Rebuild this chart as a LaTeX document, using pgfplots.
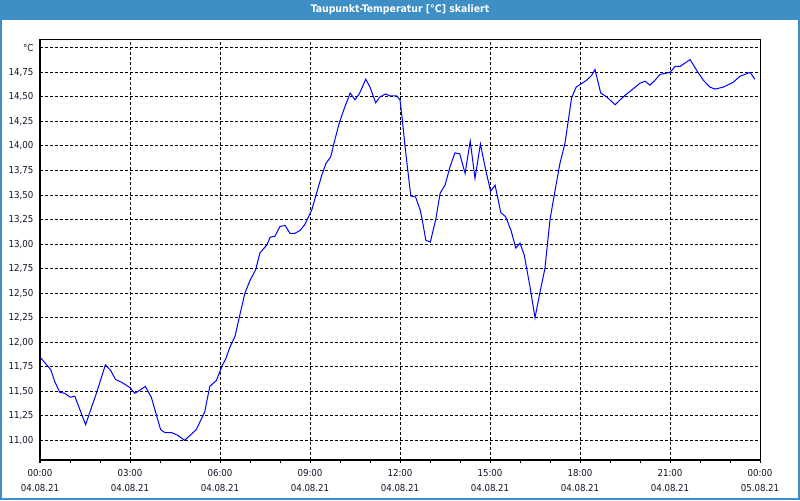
\documentclass[border=0pt]{standalone}
\usepackage{fontspec}
\setmainfont{DejaVu Sans Condensed}
\usepackage{pgfplots}
\pgfplotsset{compat=1.18}
\definecolor{barblue}{RGB}{61,143,198}
\definecolor{txt}{RGB}{20,20,40}
\begin{document}
\begin{tikzpicture}
\useasboundingbox (0,0) rectangle (600pt,375pt);
\fill[white] (0,0) rectangle (600pt,375pt);
\begin{axis}[
  at={(30pt,30pt)}, anchor=south west,
  scale only axis, width=540pt, height=315pt,
  xmin=0, xmax=24, ymin=10.8, ymax=15.08,
  axis line style={line width=0.75pt},
  xtick={0,3,...,24},
  minor xtick={1,2,4,5,7,8,10,11,13,14,16,17,19,20,22,23},
  xticklabels={{00:00\\04.08.21},{03:00\\04.08.21},{06:00\\04.08.21},{09:00\\04.08.21},{12:00\\04.08.21},{15:00\\04.08.21},{18:00\\04.08.21},{21:00\\04.08.21},{00:00\\05.08.21}},
  ytick={11,11.25,...,15},
  yticklabels={{11,00},{11,25},{11,50},{11,75},{12,00},{12,25},{12,50},{12,75},{13,00},{13,25},{13,50},{13,75},{14,00},{14,25},{14,50},{14,75},{°C}},
  tick align=outside, xtick pos=bottom, ytick pos=left,
  major tick length=2.25pt, minor tick length=2.25pt,
  tick style={black, line width=0.75pt},
  ytick style={draw=none},
  xmajorgrids, ymajorgrids,
  major grid style={black, line width=0.75pt, dash pattern=on 2.25pt off 1.5pt},
  ticklabel style={font=\fontsize{7.2}{8.4}\selectfont, text=txt},
  xticklabel style={align=center, inner sep=0pt, anchor=north, yshift=-4.5pt, font=\fontsize{7.2}{11.25}\selectfont},
  yticklabel style={inner sep=0pt, anchor=east, xshift=-2.5pt},
]
\addplot[color=blue, line width=0.75pt] coordinates {
(0,11.85) (0.36,11.72) (0.49,11.60) (0.66,11.49) (0.82,11.48) (1.01,11.44)
(1.16,11.45) (1.52,11.16) (1.88,11.48) (2.18,11.77) (2.36,11.71) (2.52,11.62)
(2.73,11.59) (2.99,11.54) (3.16,11.48) (3.32,11.51) (3.51,11.55) (3.71,11.44)
(4.02,11.11) (4.16,11.08) (4.38,11.08) (4.60,11.05) (4.82,11.00) (5.21,11.11)
(5.49,11.29) (5.66,11.55) (5.88,11.61) (6.07,11.76) (6.19,11.83) (6.33,11.95)
(6.5,12.06) (6.67,12.29) (6.83,12.50) (7.0,12.63) (7.19,12.74) (7.33,12.91)
(7.56,12.99) (7.67,13.07) (7.83,13.08) (8.0,13.18) (8.17,13.19) (8.33,13.11)
(8.5,13.11) (8.67,13.14) (8.83,13.20) (9.06,13.35) (9.22,13.52) (9.39,13.70)
(9.53,13.82) (9.69,13.89) (9.81,14.04) (9.97,14.23) (10.14,14.38) (10.34,14.54)
(10.5,14.47) (10.64,14.53) (10.86,14.68) (11.0,14.60) (11.19,14.44) (11.33,14.50)
(11.52,14.53) (11.67,14.51) (11.89,14.51) (12.0,14.47) (12.08,14.26) (12.17,13.99)
(12.26,13.75) (12.36,13.49) (12.52,13.48) (12.67,13.35) (12.74,13.25) (12.86,13.04)
(13.01,13.02) (13.19,13.25) (13.34,13.52) (13.5,13.60) (13.67,13.79) (13.83,13.93)
(13.99,13.92) (14.17,13.72) (14.34,14.05) (14.5,13.67) (14.68,14.02) (14.86,13.75)
(15.02,13.54) (15.17,13.60) (15.36,13.32) (15.52,13.28) (15.70,13.14) (15.86,12.96)
(16.0,13.01) (16.14,12.89) (16.33,12.57) (16.5,12.25) (16.68,12.53) (16.83,12.75)
(17.0,13.25) (17.17,13.55) (17.33,13.82) (17.5,14.03) (17.61,14.26) (17.72,14.49)
(17.87,14.60) (18.02,14.63) (18.22,14.67) (18.39,14.72) (18.5,14.78) (18.69,14.54)
(18.89,14.50) (19.17,14.42) (19.44,14.50) (19.72,14.57) (20.0,14.64) (20.17,14.66)
(20.33,14.62) (20.5,14.67) (20.67,14.73) (21.0,14.75) (21.17,14.81) (21.33,14.81)
(21.67,14.88) (21.89,14.77) (22.11,14.67) (22.33,14.60) (22.5,14.58) (22.78,14.60)
(23.11,14.65) (23.33,14.71) (23.67,14.75) (23.83,14.68)
};
\end{axis}
\fill[barblue] (0,360pt) rectangle (600pt,375pt);
\node[text=white, font=\bfseries\fontsize{7.8}{9}\selectfont] at (300pt,367.5pt) {Taupunkt-Temperatur [°C] skaliert};
\draw[barblue, line width=1.5pt] (0.75pt,0) -- (0.75pt,0.75pt) -- (599.25pt,0.75pt) -- (599.25pt,360pt);
\draw[barblue, line width=1.5pt] (0.75pt,0) -- (0.75pt,360pt);
\end{tikzpicture}
\end{document}
